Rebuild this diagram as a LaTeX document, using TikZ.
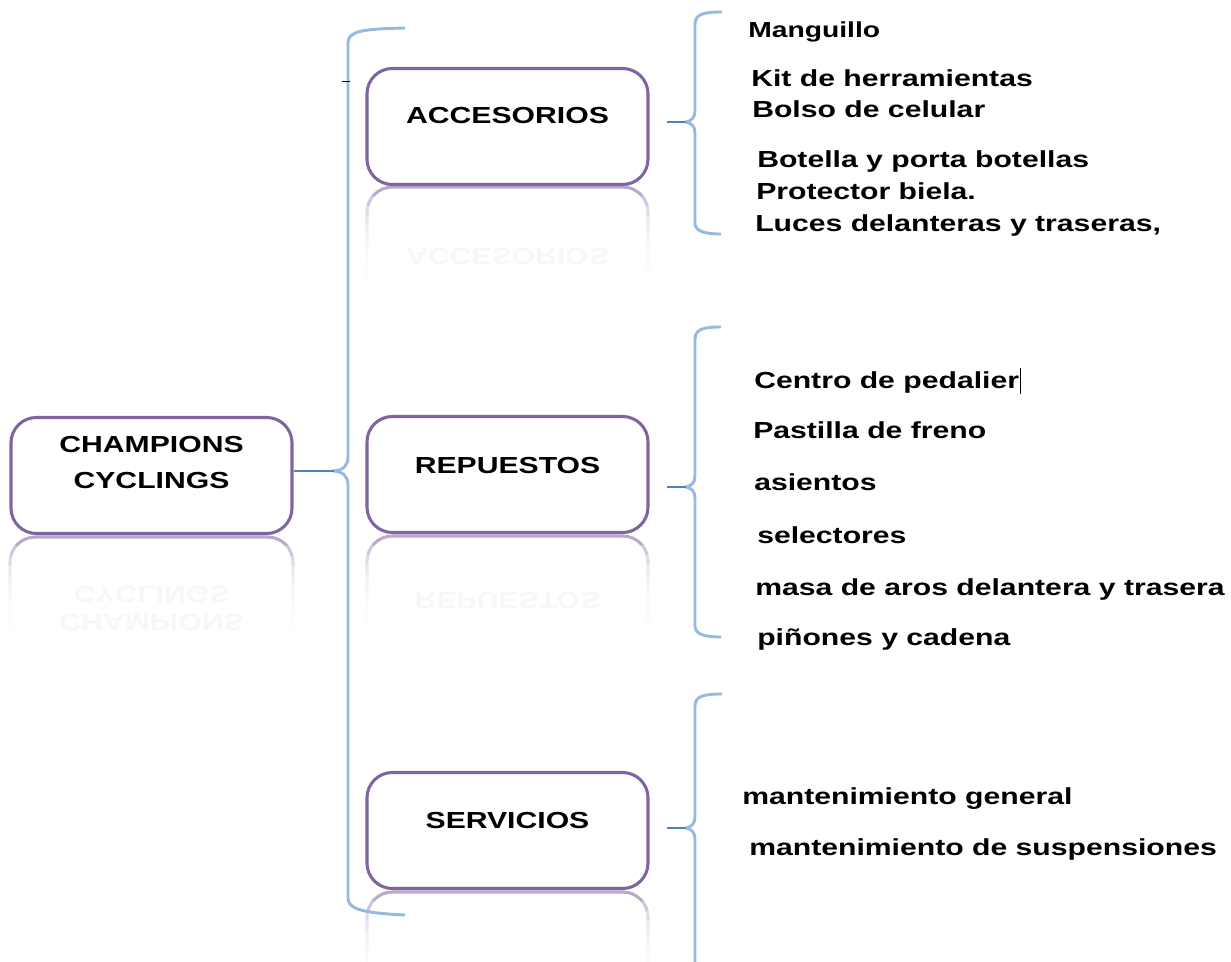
\documentclass[tikz,border=0pt]{standalone}
\usepackage{fontspec}
\newfontfamily\dfont{Liberation Sans}[FakeStretch=1.3]
\definecolor{boxpurple}{HTML}{8064A2}
\definecolor{bracelight}{HTML}{95B9E1}
\definecolor{bracedark}{HTML}{4F81BD}
\newcommand\reflbox[4]{%
  \foreach \i in {0,...,11}{%
    \pgfmathsetmacro\rp{55*exp(-\i/2.4)}%
    \pgfmathsetmacro\ya{#2+(#4-#2)*\i/12-(\i==0)*6}%
    \pgfmathsetmacro\yb{#2+(#4-#2)*(\i+1)/12+(\i==11)*6}%
    \begin{scope}
      \clip (#1-6,\ya) rectangle (#3+6,\yb);
      \draw[refl, draw=boxpurple!\rp!white] (#1,#2) rectangle (#3,#4);
    \end{scope}}}
\begin{document}
\begin{tikzpicture}[x=0.75pt,y=-0.75pt,
  txt/.style={font=\dfont\bfseries\fontsize{17.4}{27}\selectfont, text=black, inner sep=0pt},
  bx/.style={draw=boxpurple, line width=2.3pt, rounded corners=19pt, minimum width=210.75pt, minimum height=87pt, fill=white, inner sep=0pt},
  refl/.style={line width=2.3pt, rounded corners=19pt},
  rtxt/.style={txt, text=black!3, yscale=-1, transform shape, align=center},
  lbl/.style={txt, align=center, anchor=base},
  itm/.style={txt, anchor=base west},
  brc/.style={draw=bracelight, line width=2.2pt},
  tipl/.style={draw=bracedark, line width=2pt}]
\useasboundingbox (0,0) rectangle (1231,962);

% reflections
\reflbox{10}{537}{293}{652}
\reflbox{367}{187}{648}{304}
\reflbox{367}{536}{648}{651}
\reflbox{367}{892}{648}{1007}
\node[rtxt] (rroot) at (151.5,608) {CHAMPIONS\\[-6pt]CYCLINGS};
\node[rtxt] (racc) at (507.5,256) {ACCESORIOS};
\node[rtxt] (rrep) at (507.5,600) {REPUESTOS};

% boxes
\node[bx] (root) at (151.5,475.5) {};
\node[bx] (acc) at (507.5,126.5) {};
\node[bx] (rep) at (507.5,474.5) {};
\node[bx] (serv) at (507.5,830.5) {};

\node[lbl] (rootA) at (151.5,452) {CHAMPIONS};
\node[lbl] (rootB) at (151.5,488) {CYCLINGS};
\node[lbl] (accT) at (507.5,124) {ACCESORIOS};
\node[lbl] (repT) at (507.5,473) {REPUESTOS};
\node[lbl] (servT) at (507.5,828) {SERVICIOS};

% left brace
\coordinate (lbT) at (405,28);
\coordinate (lbB) at (405,915);
\coordinate (lbTip) at (334,471);
\draw[brc] (lbT) .. controls (362,29) and (348,31) .. (348,43) -- (348,457)
  .. controls (348,466) and (343,470) .. (lbTip)
  .. controls (343,472) and (348,476) .. (348,485) -- (348,898)
  .. controls (348,909) and (362,913) .. (lbB);
\draw[tipl] (lbTip -| root.east) -- (lbTip);
\coordinate (tickA) at (342,81);
\coordinate (tickB) at (350,81);
\draw[black, line width=0.7pt] (tickA) -- (tickB);

% accesorios brace
\coordinate (aT) at (722,12);
\coordinate (aB) at (721,234);
\coordinate (aTip) at (686,122);
\coordinate (aL) at (667,122);
\draw[brc] (aT) .. controls (704,12) and (695,14) .. (695,24) -- (695,111)
  .. controls (695,118) and (691,121) .. (aTip)
  .. controls (691,123) and (695,126) .. (695,133) -- (695,223)
  .. controls (695,231) and (704,234) .. (aB);
\draw[tipl] (aL) -- (aTip);

% repuestos brace
\coordinate (rT) at (721,327);
\coordinate (rB) at (721,637);
\coordinate (rTip) at (686,487);
\coordinate (rL) at (667,487);
\draw[brc] (rT) .. controls (704,327) and (695,329) .. (695,339) -- (695,476)
  .. controls (695,483) and (691,486) .. (rTip)
  .. controls (691,488) and (695,491) .. (695,498) -- (695,626)
  .. controls (695,634) and (704,637) .. (rB);
\draw[tipl] (rL) -- (rTip);

% servicios brace
\coordinate (sT) at (722,694);
\coordinate (sB) at (695,962);
\coordinate (sTip) at (686,828);
\coordinate (sL) at (667,828);
\draw[brc] (sT) .. controls (704,694) and (695,696) .. (695,706) -- (695,817)
  .. controls (695,824) and (691,827) .. (sTip)
  .. controls (691,829) and (695,832) .. (695,839) -- (sB);
\draw[tipl] (sL) -- (sTip);

% items
\node[itm, font=\dfont\bfseries\fontsize{16.3}{20}\selectfont] (i1) at (748,38) {Manguillo};
\node[itm] (i2) at (751,87) {Kit de herramientas};
\node[itm] (i3) at (752,118) {Bolso de celular};
\node[itm] (i4) at (757,168) {Botella y porta botellas};
\node[itm] (i5) at (756,200) {Protector biela.};
\node[itm] (i6) at (755,232) {Luces delanteras y traseras,};

\node[itm] (j1) at (754,388) {Centro de pedalier};
\coordinate (curT) at (1020,368);
\coordinate (curB) at (1020,394);
\draw[black, line width=0.6pt] (curT) -- (curB);
\node[itm] (j2) at (753,438) {Pastilla de freno};
\node[itm] (j3) at (754,490) {asientos};
\node[itm] (j4) at (757,543) {selectores};
\node[itm] (j5) at (755,595) {masa de aros delantera y trasera};
\node[itm] (j6) at (757,645) {piñones y cadena};

\node[itm] (k1) at (742,804) {mantenimiento general};
\node[itm] (k2) at (749,855) {mantenimiento de suspensiones};
\end{tikzpicture}
\end{document}
